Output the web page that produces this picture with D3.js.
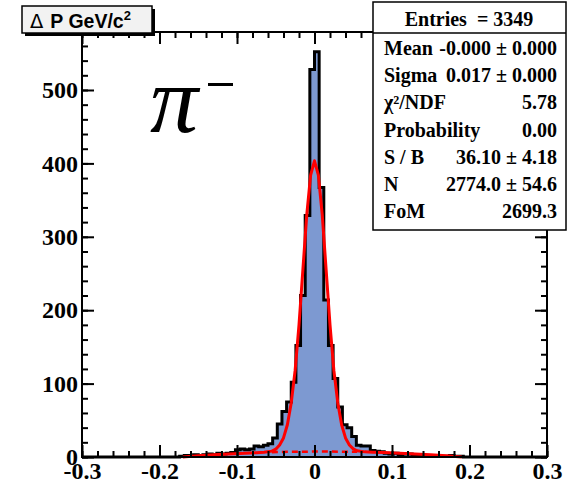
<!DOCTYPE html>
<html>
<head>
<meta charset="utf-8">
<script src="https://cdn.jsdelivr.net/npm/d3@7"></script>
<style>
  body { margin: 0; background: #fff; }
  svg { display: block; }
  .tick line { stroke: #000; stroke-width: 2; }
  .lbl .tick text { font-family: "Liberation Serif", serif; font-weight: bold; font-size: 24px; fill: #000; }
  .stat { font-family: "Liberation Serif", serif; font-weight: bold; font-size: 20px; fill: #000; }
</style>
</head>
<body>
<div id="viz"></div>
<script>
// histogram: 100 bins of 0.006 from -0.3 to 0.3
var binLow = -0.3, binWidth = 0.006;
var counts = [
  0, 0, 0, 0, 0, 0, 0, 0, 0, 0,
  0, 0, 0, 0, 0, 0, 0, 0, 0, 0,
  0, 1, 2, 1, 3, 2, 3, 4, 3, 5,
  4, 5, 6, 10, 11, 10, 11, 15, 14, 16,
  18, 26, 45, 62, 75, 102, 152, 220, 329, 528,
  552, 367, 214, 152, 107, 68, 44, 40, 28, 16,
  15, 15, 9, 8, 7, 5, 4, 5, 3, 4,
  4, 2, 2, 1, 2, 1, 2, 1, 1, 2,
  1, 1, 0, 0, 0, 0, 0, 0, 0, 0,
  0, 0, 0, 0, 0, 0, 0, 0, 0, 0
];

// fit curve (gauss + background)
var fitX = [-0.17, -0.15, -0.13, -0.11, -0.09, -0.075, -0.065, -0.055, -0.05, -0.045, -0.04, -0.035, -0.03, -0.025,
  -0.02, -0.015, -0.01, -0.005, 0, 0.005, 0.01, 0.015, 0.02, 0.025, 0.03, 0.035, 0.04, 0.045, 0.05, 0.055,
  0.065, 0.075, 0.09, 0.11, 0.13, 0.15, 0.17, 0.19];
var fitY = [0, 1.6, 3.0, 4.2, 5.2, 5.8, 6.4, 8.0, 10.7, 16.4, 26, 44, 74, 118,
  180, 255, 330, 384, 403.5, 384, 330, 255, 180, 118, 74, 44, 26, 16.4, 11.1, 8.5,
  7.0, 6.5, 6.0, 5.2, 4.2, 3.0, 1.6, 0];

// background component (dashed)
var bkgX = [-0.055, -0.03, 0, 0.03, 0.055];
var bkgY = [6.6, 7.1, 7.4, 7.3, 7.0];

var xMajor = [-0.3, -0.2, -0.1, 0, 0.1, 0.2, 0.3];
var yMajor = [0, 100, 200, 300, 400, 500];

var statNames = ["Mean", "Sigma", "\u03c7\u00b2/NDF", "Probability", "S / B", "N", "FoM"];
var statValues = ["-0.000 \u00b1 0.000", "0.017 \u00b1 0.000", "5.78", "0.00", "36.10 \u00b1 4.18", "2774.0 \u00b1 54.6", "2699.3"];
var entries = 3349;

var width = 567, height = 483;
var fL = 82, fR = 547, fT = 32, fB = 457;

var x = d3.scaleLinear().domain([-0.3, 0.3]).range([fL, fR]);
var y = d3.scaleLinear().domain([0, 579]).range([fB, fT]);

var svg = d3.select("#viz").append("svg")
  .attr("width", width)
  .attr("height", height);

// histogram outline points (staircase)
var pts = [[binLow, 0]];
counts.forEach(function(c, i) {
  var lo = binLow + i * binWidth;
  pts.push([lo, c]);
  pts.push([lo + binWidth, c]);
});
pts.push([binLow + counts.length * binWidth, 0]);

svg.append("path")
  .datum(pts)
  .attr("fill", "#7d99d1")
  .attr("d", d3.area()
    .x(function(d) { return x(d[0]); })
    .y0(y(0))
    .y1(function(d) { return y(d[1]); }));

svg.append("path")
  .datum(pts)
  .attr("fill", "none")
  .attr("stroke", "#000")
  .attr("stroke-width", 3)
  .attr("d", d3.line()
    .x(function(d) { return x(d[0]); })
    .y(function(d) { return y(d[1]); }));

// fit
var fitLine = d3.line()
  .x(function(d) { return x(d[0]); })
  .y(function(d) { return y(d[1]); });

svg.append("path")
  .datum(d3.zip(bkgX, bkgY))
  .attr("fill", "none")
  .attr("stroke", "#ff0000")
  .attr("stroke-width", 2.5)
  .attr("stroke-dasharray", "6,4")
  .attr("d", fitLine);

svg.append("path")
  .datum(d3.zip(fitX, fitY))
  .attr("fill", "none")
  .attr("stroke", "#ff0000")
  .attr("stroke-width", 3)
  .attr("stroke-linejoin", "round")
  .attr("d", fitLine);

// axes, ticks inside on all four sides
var xMinor = d3.range(-30, 31, 2).map(function(d) { return d / 100; });
var yMinor = d3.range(0, 580, 20);
var xFmt = function(d) { return Math.abs(d) < 1e-9 ? "0" : d.toFixed(1); };

function axis(gen, tr, vals, size, fmt, pad, cls) {
  var g = svg.append("g")
    .attr("class", cls || "")
    .attr("transform", tr)
    .call(gen.tickValues(vals).tickSize(-size).tickPadding(pad).tickFormat(fmt));
  g.select(".domain").remove();
  return g;
}

axis(d3.axisBottom(x), "translate(0," + fB + ")", xMinor, 6, "", 0);
axis(d3.axisBottom(x), "translate(0," + fB + ")", xMajor, 12, xFmt, 5, "lbl");
axis(d3.axisTop(x), "translate(0," + fT + ")", xMinor, 6, "", 0);
axis(d3.axisTop(x), "translate(0," + fT + ")", xMajor, 12, "", 0);

axis(d3.axisLeft(y), "translate(" + fL + ",0)", yMinor, 6, "", 0);
axis(d3.axisLeft(y), "translate(" + fL + ",0)", yMajor, 12, d3.format("d"), 4, "lbl");
axis(d3.axisRight(y), "translate(" + fR + ",0)", yMinor, 6, "", 0);
axis(d3.axisRight(y), "translate(" + fR + ",0)", yMajor, 12, "", 0);

svg.append("rect")
  .attr("x", fL).attr("y", fT)
  .attr("width", fR - fL).attr("height", fB - fT)
  .attr("fill", "none")
  .attr("stroke", "#000")
  .attr("stroke-width", 2);

// pi minus label
svg.append("text")
  .attr("x", 150).attr("y", 132)
  .style("font-family", "'Liberation Serif', serif")
  .style("font-style", "italic")
  .style("font-size", "96px")
  .text("\u03c0");
svg.append("rect")
  .attr("x", 208).attr("y", 83)
  .attr("width", 25).attr("height", 3)
  .attr("fill", "#000");

// title box
svg.append("rect")
  .attr("x", 25).attr("y", 9).attr("width", 130).attr("height", 27)
  .attr("fill", "#000");
svg.append("rect")
  .attr("x", 22).attr("y", 6).attr("width", 130).attr("height", 27)
  .attr("fill", "#f2f2f2")
  .attr("stroke", "#000")
  .attr("stroke-width", 1.5);
var title = svg.append("text")
  .attr("x", 30).attr("y", 28)
  .style("font-family", "'Liberation Sans', sans-serif")
  .style("font-weight", "bold")
  .style("font-size", "19.5px");
title.append("tspan").style("font-weight", "normal").style("font-family", "'DejaVu Sans', sans-serif").text("\u0394");
title.append("tspan").attr("dx", 7).text("P GeV/c");
title.append("tspan").attr("dy", -8).style("font-size", "13px").text("2");

// stats box
var sx = 373, sw = 193, sy = 2, sh = 228;
svg.append("rect")
  .attr("x", sx).attr("y", sy).attr("width", sw).attr("height", sh)
  .attr("fill", "#fff")
  .attr("stroke", "#000")
  .attr("stroke-width", 1.5);
svg.append("line")
  .attr("x1", sx).attr("x2", sx + sw)
  .attr("y1", 33).attr("y2", 33)
  .attr("stroke", "#000")
  .attr("stroke-width", 1.5);
svg.append("text")
  .attr("class", "stat")
  .attr("x", 469).attr("y", 26)
  .attr("text-anchor", "middle")
  .attr("xml:space", "preserve")
  .text("Entries  = " + entries);

var rows = svg.selectAll(".row")
  .data(d3.zip(statNames, statValues))
  .enter().append("g")
  .attr("class", "row")
  .attr("transform", function(d, i) { return "translate(0," + (55 + i * 27.2) + ")"; });
rows.append("text")
  .attr("class", "stat")
  .attr("x", 384)
  .text(function(d) { return d[0]; });
rows.append("text")
  .attr("class", "stat")
  .attr("x", 557)
  .attr("text-anchor", "end")
  .text(function(d) { return d[1]; });
</script>
</body>
</html>
